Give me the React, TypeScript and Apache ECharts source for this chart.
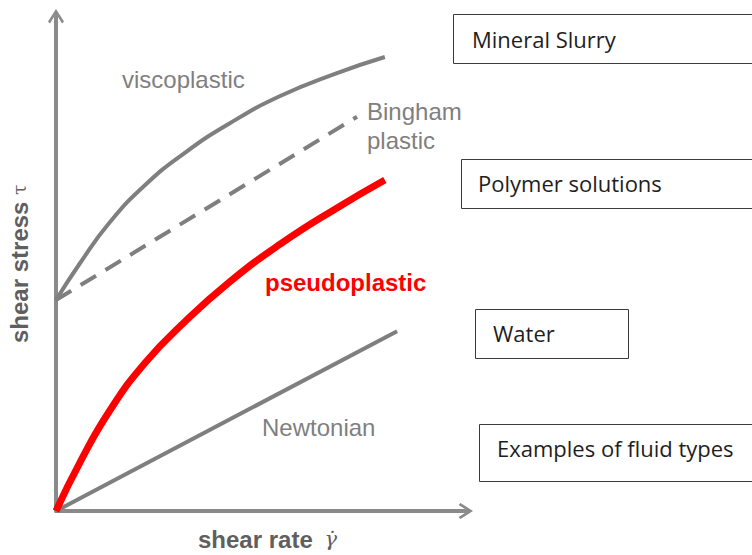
import React, { useEffect, useRef } from "react";
import * as echarts from "echarts";

// ---- data (arbitrary units: shear rate 0..100, shear stress 0..100) ----
const newtonian: [number, number][] = [
  [0, 0],
  [83.4, 36.4],
];
const pseudoplastic: [number, number][] = [
  [0, 0],
  [5.9, 9.9],
  [13.2, 20.4],
  [21.8, 30.0],
  [31.5, 38.3],
  [42.5, 46.4],
  [54.8, 54.0],
  [68.2, 61.1],
  [80.4, 67.0],
];
const viscoplastic: [number, number][] = [
  [0, 42.7],
  [5.9, 50.2],
  [13.2, 58.5],
  [21.8, 66.0],
  [31.5, 72.5],
  [42.5, 78.5],
  [54.8, 84.0],
  [68.2, 88.5],
  [80.4, 91.9],
];
const bingham: [number, number][] = [
  [0, 42.7],
  [73.6, 79.8],
];

const curveLabels = ["viscoplastic", "Bingham\nplastic", "pseudoplastic", "Newtonian"];
const boxLabels = ["Mineral Slurry", "Polymer solutions", "Water", "Examples of fluid types"];
const xTitle = "shear rate";
const xSymbol = "γ̇";
const yTitle = "shear stress";
const ySymbol = "τ";

const GRAY = "#7f7f7f";
const AXIS = "#8a8a8a";
const TITLE = "#5f5f5f";
const arrowPath =
  "path://M50 0 L100 78 L88 90 L55 38 L55 100 L45 100 L45 38 L12 90 L0 78 Z";

function buildOption() {
  const axisCommon = {
    type: "value" as const,
    min: 0,
    max: 100,
    axisLine: {
      show: true,
      onZero: false,
      symbol: ["none", arrowPath],
      symbolSize: [16, 17],
      lineStyle: { color: AXIS, width: 4 },
    },
    axisTick: { show: false },
    axisLabel: { show: false },
    splitLine: { show: false },
  };

  const grayFont = { fontFamily: "Liberation Sans", fontSize: 24, fill: GRAY };

  const boxes = [
    { x: 453, y: 14, w: 330, h: 49, tx: 472, ty: 38.5 },
    { x: 461, y: 159, w: 330, h: 49, tx: 478, ty: 183 },
    { x: 475, y: 309, w: 153, h: 49, tx: 493, ty: 333 },
    { x: 479, y: 424, w: 330, h: 57, tx: 497, ty: 448 },
  ];

  const graphic: any[] = [];
  boxes.forEach((b, i) => {
    graphic.push({
      type: "rect",
      shape: { x: b.x + 0.5, y: b.y + 0.5, width: b.w, height: b.h },
      style: { fill: "#fff", stroke: "#3a3a3a", lineWidth: 1 },
    });
    graphic.push({
      type: "text",
      x: b.tx,
      y: b.ty,
      style: {
        text: boxLabels[i],
        fontFamily: "Open Sans",
        fontSize: 22,
        fill: "#1e1e1e",
        align: "left",
        verticalAlign: "middle",
      },
    });
  });

  graphic.push(
    {
      type: "text",
      x: 122,
      y: 79,
      style: { ...grayFont, text: curveLabels[0], align: "left", verticalAlign: "middle" },
    },
    {
      type: "text",
      x: 367,
      y: 126,
      style: {
        ...grayFont,
        text: curveLabels[1],
        lineHeight: 29,
        align: "left",
        verticalAlign: "middle",
      },
    },
    {
      type: "text",
      x: 265,
      y: 282,
      style: {
        text: curveLabels[2],
        fontFamily: "Liberation Sans",
        fontWeight: "bold",
        fontSize: 24,
        fill: "#ff0000",
        align: "left",
        verticalAlign: "middle",
      },
    },
    {
      type: "text",
      x: 262,
      y: 427,
      style: { ...grayFont, text: curveLabels[3], align: "left", verticalAlign: "middle" },
    },
    {
      type: "text",
      x: 198,
      y: 539,
      style: {
        text: `{a|${xTitle}}  {g|${xSymbol}}`,
        align: "left",
        verticalAlign: "middle",
        rich: {
          a: { fontFamily: "Liberation Sans", fontWeight: "bold", fontSize: 24, fill: TITLE },
          g: {
            fontFamily: "DejaVu Serif",
            fontStyle: "italic",
            fontSize: 21,
            fill: TITLE,
            padding: [0, 0, 0, 5],
          },
        },
      },
    },
    {
      type: "text",
      x: 19,
      y: 343,
      rotation: Math.PI / 2,
      style: {
        text: `{a|${yTitle}}  {t|${ySymbol}}`,
        align: "left",
        verticalAlign: "middle",
        rich: {
          a: { fontFamily: "Liberation Sans", fontWeight: "bold", fontSize: 24, fill: TITLE },
          t: { fontFamily: "DejaVu Serif", fontSize: 19, fill: TITLE },
        },
      },
    }
  );

  const lineSeries = (data: [number, number][], color: string, width: number, type: any = "solid") => ({
    type: "line",
    data,
    smooth: 0.5,
    symbol: "none",
    showSymbol: false,
    silent: true,
    lineStyle: { color, width, type },
  });

  return {
    animation: false,
    backgroundColor: "#ffffff",
    grid: { left: 56, right: 287, top: 17, bottom: 44 },
    xAxis: axisCommon,
    yAxis: axisCommon,
    series: [
      lineSeries(newtonian, GRAY, 4),
      lineSeries(bingham, GRAY, 4, [18, 11]),
      lineSeries(viscoplastic, GRAY, 4),
      lineSeries(pseudoplastic, "#ff0000", 7),
    ],
    graphic,
  };
}

export default function App() {
  const ref = useRef<HTMLDivElement>(null);
  useEffect(() => {
    const chart = echarts.init(ref.current!, null, { renderer: "svg" });
    chart.setOption(buildOption() as any);
    return () => chart.dispose();
  }, []);
  return (
    <div
      ref={ref}
      style={{ position: "absolute", left: 0, top: 0, width: 752, height: 555, background: "#fff" }}
    />
  );
}
